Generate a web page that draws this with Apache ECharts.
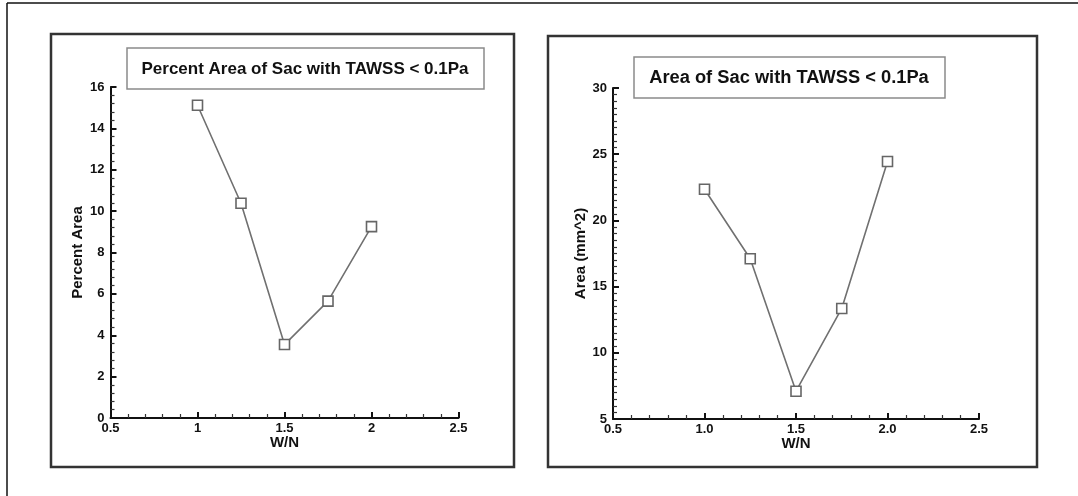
<!DOCTYPE html>
<html>
<head>
<meta charset="utf-8">
<script src="https://cdn.jsdelivr.net/npm/echarts@6/dist/echarts.min.js"></script>
<style>
html,body{margin:0;padding:0;background:#fff;}
#chart{width:1078px;height:496px;}
</style>
</head>
<body>
<div id="chart"></div>
<script>
// ---- data ----
const wnValues = [1.0, 1.25, 1.5, 1.75, 2.0];
const percentArea = [15.12, 10.38, 3.55, 5.65, 9.25];
const areaMm2 = [22.35, 17.1, 7.1, 13.35, 24.45];
const leftTitle = 'Percent Area of Sac with TAWSS < 0.1Pa';
const rightTitle = 'Area of Sac with TAWSS < 0.1Pa';
const xName = 'W/N';
const leftYName = 'Percent Area';
const rightYName = 'Area (mm^2)';

const FONT = '"Liberation Sans", Arial, sans-serif';
const chart = echarts.init(document.getElementById('chart'), null, {renderer: 'canvas'});

function pairs(xs, ys) { return xs.map((x, i) => [x, ys[i]]); }

function xAxisDef(gridIndex, fmt) {
  return {
    type: 'value', gridIndex: gridIndex, min: 0.5, max: 2.5, interval: 0.5,
    name: xName, nameLocation: 'middle', nameGap: 17, nameMoveOverlap: false,
    nameTextStyle: {fontFamily: FONT, fontWeight: 'bold', fontSize: 15, color: '#111'},
    axisLine: {show: true, onZero: false, lineStyle: {color: '#111', width: 2}},
    axisTick: {show: true, inside: true, length: 6, lineStyle: {color: '#111', width: 2}},
    minorTick: {show: true, splitNumber: 5, length: 4, lineStyle: {color: '#333', width: 1.2}},
    splitLine: {show: false},
    axisLabel: {fontFamily: FONT, fontWeight: 'bold', fontSize: 13, color: '#111', margin: 4,
      formatter: fmt}
  };
}
function yAxisDef(gridIndex, min, max, interval, name, minorSplit) {
  return {
    type: 'value', gridIndex: gridIndex, min: min, max: max, interval: interval,
    name: name, nameLocation: 'middle', nameGap: 25, nameMoveOverlap: false,
    nameTextStyle: {fontFamily: FONT, fontWeight: 'bold', fontSize: 15, color: '#111'},
    axisLine: {show: true, onZero: false, lineStyle: {color: '#111', width: 2}},
    axisTick: {show: true, inside: true, length: 6, lineStyle: {color: '#111', width: 2}},
    minorTick: {show: true, splitNumber: minorSplit, length: 4, lineStyle: {color: '#333', width: 1.2}},
    splitLine: {show: false},
    axisLabel: {fontFamily: FONT, fontWeight: 'bold', fontSize: 13, color: '#111', margin: 6}
  };
}
function seriesDef(idx, data) {
  return {
    type: 'line', xAxisIndex: idx, yAxisIndex: idx, data: data,
    symbol: 'rect', symbolSize: 10,
    lineStyle: {color: '#707070', width: 1.6},
    itemStyle: {color: '#fff', borderColor: '#666', borderWidth: 1.6},
    animation: false, z: 3
  };
}

const option = {
  backgroundColor: '#fff',
  animation: false,
  grid: [
    {left: 110.5, top: 87, width: 348, height: 331},
    {left: 613, top: 88, width: 366, height: 331}
  ],
  xAxis: [
    xAxisDef(0, v => String(v)),
    xAxisDef(1, v => v.toFixed(1))
  ],
  yAxis: [
    yAxisDef(0, 0, 16, 2, leftYName, 5),
    yAxisDef(1, 5, 30, 5, rightYName, 10)
  ],
  series: [
    seriesDef(0, pairs(wnValues, percentArea)),
    seriesDef(1, pairs(wnValues, areaMm2))
  ],
  graphic: [
    // outer frame edges
    {type: 'line', shape: {x1: 7, y1: 3, x2: 7, y2: 496}, style: {stroke: '#111', lineWidth: 1.5}, silent: true},
    {type: 'line', shape: {x1: 7, y1: 3, x2: 1078, y2: 3}, style: {stroke: '#111', lineWidth: 1.5}, silent: true},
    // panel boxes
    {type: 'rect', shape: {x: 51, y: 34, width: 463, height: 433}, style: {fill: 'none', stroke: '#333', lineWidth: 2.5}, silent: true},
    {type: 'rect', shape: {x: 548, y: 36, width: 489, height: 431}, style: {fill: 'none', stroke: '#333', lineWidth: 2.5}, silent: true},
    // title boxes
    {type: 'rect', shape: {x: 127, y: 48, width: 357, height: 41}, style: {fill: '#fff', stroke: '#8a8a8a', lineWidth: 1.5}, silent: true, z: 10},
    {type: 'rect', shape: {x: 634, y: 57, width: 311, height: 41}, style: {fill: '#fff', stroke: '#8a8a8a', lineWidth: 1.5}, silent: true, z: 10},
    {type: 'text', x: 305, y: 69, z: 11, silent: true,
      style: {text: leftTitle, fill: '#111', font: 'bold 17px ' + FONT, align: 'center', verticalAlign: 'middle'}},
    {type: 'text', x: 789, y: 78, z: 11, silent: true,
      style: {text: rightTitle, fill: '#111', font: 'bold 18.3px ' + FONT, align: 'center', verticalAlign: 'middle'}}
  ]
};
chart.setOption(option);
</script>
</body>
</html>
